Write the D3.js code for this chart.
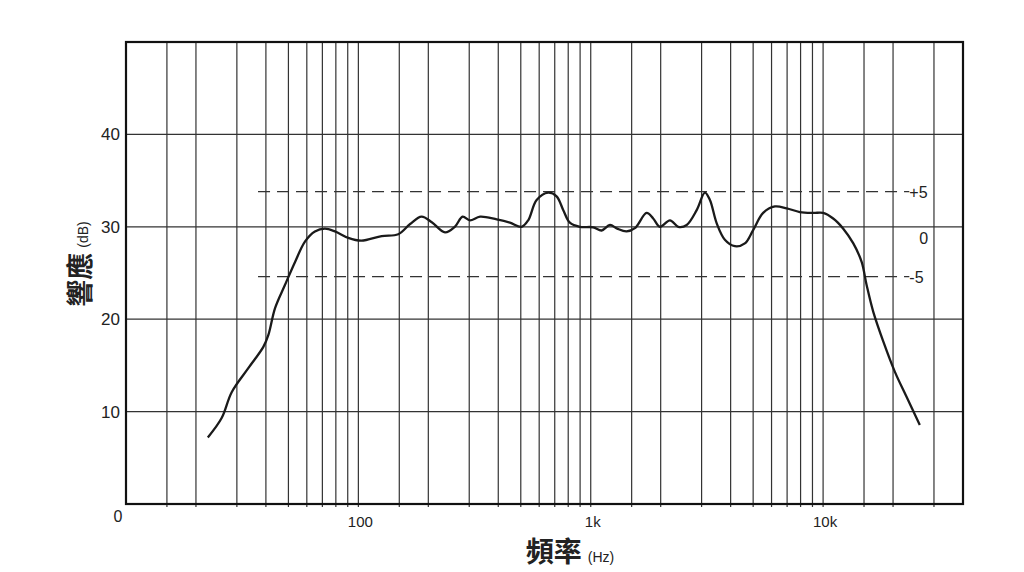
<!DOCTYPE html>
<html>
<head>
<meta charset="utf-8">
<script src="https://cdn.jsdelivr.net/npm/d3@7"></script>
<style>
body { margin: 0; background: #fff; }
svg { display: block; }
.lbl { font-family: "Liberation Sans", Arial, sans-serif; fill: #222; }
.cjk { font-family: "Noto Sans CJK TC", "Noto Sans CJK SC", sans-serif; font-weight: 700; fill: #222; }
</style>
</head>
<body>
<svg id="chart"></svg>
<script>
// frequency response (Hz, dB)
var freqs = [22.5, 25.8, 28.5, 33.6, 39, 41, 43.8, 48.3, 53.4, 58.9, 65, 71.8, 79.3, 90.5,
  103, 126, 148.5, 167, 187, 207, 236, 260, 281, 302, 334, 394, 449, 504, 538, 585, 656,
  713, 762, 813, 898, 1025, 1114, 1210, 1300, 1426, 1549, 1740, 1857, 1985, 2193, 2382,
  2588, 2857, 3100, 3258, 3482, 3778, 4171, 4605, 5000, 5521, 6205, 6968, 7943, 9066,
  10000, 11050, 12210, 13490, 14650, 15390, 16440, 18150, 20370, 22860, 26070];
var levels = [7.2, 9.3, 12.1, 14.7, 17.0, 18.3, 21.2, 23.7, 26.2, 28.4, 29.5, 29.8, 29.5, 28.8,
  28.5, 29.0, 29.2, 30.3, 31.1, 30.5, 29.4, 30.0, 31.1, 30.7, 31.1, 30.8, 30.45, 30.0, 30.7, 32.9, 33.7,
  33.3, 31.8, 30.45, 30.0, 29.95, 29.6, 30.2, 29.8, 29.5, 29.85, 31.5, 30.9, 30.0, 30.7, 30.0,
  30.2, 31.8, 33.7, 32.9, 30.4, 28.6, 27.9, 28.2, 29.65, 31.5, 32.2, 32.0, 31.6, 31.5,
  31.5, 30.9, 29.8, 28.2, 26.2, 23.7, 20.8, 17.6, 14.3, 11.6, 8.55];

var gridFreqs = [15, 20, 30, 40, 50, 60, 70, 80, 90, 100, 150, 200, 300, 400, 500, 600, 700, 800, 900,
  1000, 1500, 2000, 3000, 4000, 5000, 6000, 7000, 8000, 9000, 10000, 15000, 20000, 30000];
var gridDb = [10, 20, 30, 40];
var xTickVals = [100, 1000, 10000];
var xTickText = ["100", "1k", "10k"];
var yTickVals = [10, 20, 30, 40];

// tolerance band (dB level of each dashed line and its label)
var bandLabels = ["+5", "0", "-5"];
var bandDb = [33.8, 29.2, 24.6];
var bandFrom = 37, bandTo = 23500;

var W = 1024, H = 572;
var margin = {top: 42, right: 61, bottom: 68, left: 126};
var width = W - margin.left - margin.right;
var height = H - margin.top - margin.bottom;

var svg = d3.select("#chart").attr("width", W).attr("height", H);
var g = svg.append("g").attr("transform", "translate(" + margin.left + "," + margin.top + ")");

var xs = d3.scaleLog().domain([10, 40000]).range([0, width]);
var ys = d3.scaleLinear().domain([0, 50]).range([height, 0]);

// grid
g.selectAll(".vgrid").data(gridFreqs).enter().append("line")
  .attr("x1", function(d) { return xs(d); }).attr("x2", function(d) { return xs(d); })
  .attr("y1", 0).attr("y2", height + 3)
  .attr("stroke", "#333").attr("stroke-width", 1.2);
g.selectAll(".hgrid").data(gridDb).enter().append("line")
  .attr("x1", 0).attr("x2", width)
  .attr("y1", function(d) { return ys(d); }).attr("y2", function(d) { return ys(d); })
  .attr("stroke", "#333").attr("stroke-width", 1.2);

// dashed +5 / -5 lines
[0, 2].forEach(function(i) {
  g.append("line")
    .attr("x1", xs(bandFrom)).attr("x2", xs(bandTo))
    .attr("y1", ys(bandDb[i])).attr("y2", ys(bandDb[i]))
    .attr("stroke", "#333").attr("stroke-width", 1.3)
    .attr("stroke-dasharray", "12,7");
});
bandLabels.forEach(function(t, i) {
  g.append("text").attr("class", "lbl")
    .attr("x", xs(bandTo) + (i == 1 ? 10 : 0)).attr("y", ys(bandDb[i]) + (i == 1 ? 10 : 6))
    .style("font-size", "16px")
    .text(t);
});

// frame
g.append("rect").attr("width", width).attr("height", height)
  .attr("fill", "none").attr("stroke", "#111").attr("stroke-width", 2.2);

// response curve
var pts = freqs.map(function(f, i) { return [f, levels[i]]; });
var line = d3.line()
  .x(function(d) { return xs(d[0]); })
  .y(function(d) { return ys(d[1]); })
  .curve(d3.curveCatmullRom.alpha(0.5));
g.append("path").datum(pts)
  .attr("d", line)
  .attr("fill", "none").attr("stroke", "#1a1a1a").attr("stroke-width", 2.3)
  .attr("stroke-linejoin", "round");

// tick labels
g.selectAll(".ylab").data(yTickVals).enter().append("text").attr("class", "lbl")
  .attr("x", -6).attr("y", function(d) { return ys(d) + 6; })
  .attr("text-anchor", "end").style("font-size", "17px")
  .text(function(d) { return d; });
g.append("text").attr("class", "lbl")
  .attr("x", -8).attr("y", height + 18)
  .attr("text-anchor", "middle").style("font-size", "16px").text("0");
g.selectAll(".xlab").data(xTickVals).enter().append("text").attr("class", "lbl")
  .attr("x", function(d) { return xs(d) + 2; }).attr("y", height + 23)
  .attr("text-anchor", "middle").style("font-size", "15px")
  .text(function(d, i) { return xTickText[i]; });

// axis titles
var xt = svg.append("text").attr("x", 570).attr("y", 562).attr("text-anchor", "middle");
xt.append("tspan").attr("class", "cjk").style("font-size", "28px").text("頻率");
xt.append("tspan").attr("class", "lbl").attr("dx", 6).style("font-size", "14px").text("(Hz)");

var yt = svg.append("text").attr("transform", "translate(90,264) rotate(-90)").attr("text-anchor", "middle");
yt.append("tspan").attr("class", "cjk").style("font-size", "27px").text("響應");
yt.append("tspan").attr("class", "lbl").attr("dx", 5).attr("dy", -2).style("font-size", "14px").text("(dB)");
</script>
</body>
</html>
